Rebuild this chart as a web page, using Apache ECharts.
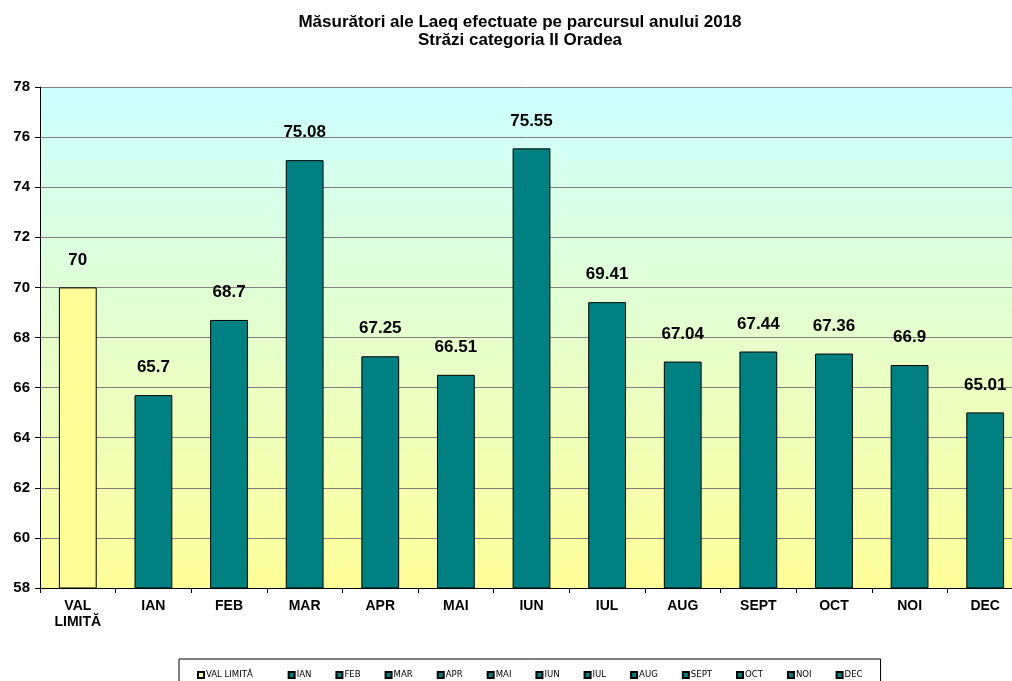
<!DOCTYPE html>
<html>
<head>
<meta charset="utf-8">
<script src="https://cdn.jsdelivr.net/npm/echarts@6/dist/echarts.min.js"></script>
<style>
  html, body { margin: 0; padding: 0; background: #fff; }
  #main { width: 1012px; height: 681px; }
</style>
</head>
<body>
<div id="main"></div>
<script>
// categorii si valori Laeq (dB)
var categories = ['VAL LIMITĂ', 'IAN', 'FEB', 'MAR', 'APR', 'MAI', 'IUN', 'IUL', 'AUG', 'SEPT', 'OCT', 'NOI', 'DEC'];
var axisLabels = ['VAL\nLIMITĂ', 'IAN', 'FEB', 'MAR', 'APR', 'MAI', 'IUN', 'IUL', 'AUG', 'SEPT', 'OCT', 'NOI', 'DEC'];
var values = [70, 65.7, 68.7, 75.08, 67.25, 66.51, 75.55, 69.41, 67.04, 67.44, 67.36, 66.9, 65.01];
var yTicks = [58, 60, 62, 64, 66, 68, 70, 72, 74, 76, 78];

var chart = echarts.init(document.getElementById('main'), null, { renderer: 'canvas' });

var font = 'Liberation Sans, Arial, sans-serif';
var narrow = '"Liberation Sans Narrow", "DejaVu Sans Condensed", "Liberation Sans", sans-serif';

// o serie pe categorie, ca in Excel (legenda pe puncte)
var series = [];
for (var i = 0; i < categories.length; i++) {
  var d = [];
  for (var j = 0; j < categories.length; j++) {
    d.push(j === i ? values[i] : '-');
  }
  series.push({
    name: categories[i],
    type: 'bar',
    stack: 'all',
    barWidth: '50%',
    data: d,
    itemStyle: {
      color: i === 0 ? '#FFFF99' : '#008080',
      borderColor: '#000',
      borderWidth: 1
    },
    label: {
      show: true,
      position: 'top',
      distance: 19,
      color: '#000',
      fontFamily: font,
      fontWeight: 'bold',
      fontSize: 17
    }
  });
}

var option = {
  animation: false,
  backgroundColor: '#fff',
  title: {
    text: 'Măsurători ale Laeq efectuate pe parcursul anului 2018\nStrăzi categoria II Oradea',
    left: 515,
    top: 8,
    textAlign: 'center',
    textStyle: {
      fontFamily: font,
      fontWeight: 'bold',
      fontSize: 17,
      lineHeight: 18,
      color: '#000'
    }
  },
  grid: {
    left: 40,
    width: 983,
    top: 87,
    bottom: 93,
    outerBoundsMode: 'none',
    show: true,
    borderWidth: 0,
    backgroundColor: {
      type: 'linear',
      x: 0, y: 0, x2: 0, y2: 1,
      colorStops: [
        { offset: 0, color: '#CCFFFF' },
        { offset: 1, color: '#FFFF99' }
      ]
    }
  },
  legend: {
    left: 179,
    top: 659,
    data: categories,
    icon: 'rect',
    itemWidth: 6,
    itemHeight: 6,
    itemGap: 24,
    padding: [11, 18, 12, 18],
    borderColor: '#000',
    borderWidth: 1,
    backgroundColor: '#fff',
    formatter: function (name) {
      return name === categories[0] ? name + '    ' : name;
    },
    textStyle: {
      fontFamily: narrow,
      fontSize: 9.5,
      color: '#000',
      padding: [0, 0, 0, -3]
    }
  },
  xAxis: {
    type: 'category',
    data: axisLabels,
    axisLine: { lineStyle: { color: '#000', width: 1 } },
    axisTick: { show: true, length: 5, lineStyle: { color: '#000' } },
    axisLabel: {
      color: '#000',
      fontFamily: font,
      fontWeight: 'bold',
      fontSize: 14,
      lineHeight: 16,
      margin: 10,
      interval: 0
    }
  },
  yAxis: {
    type: 'value',
    min: yTicks[0],
    max: yTicks[yTicks.length - 1],
    interval: 2,
    axisLine: { show: true, lineStyle: { color: '#000', width: 1 } },
    axisTick: { show: true, length: 5, lineStyle: { color: '#000' } },
    axisLabel: {
      color: '#000',
      fontFamily: font,
      fontWeight: 'bold',
      fontSize: 15,
      margin: 10
    },
    splitLine: { show: true, lineStyle: { color: '#808080', width: 1 } }
  },
  series: series
};

chart.setOption(option);
</script>
</body>
</html>
